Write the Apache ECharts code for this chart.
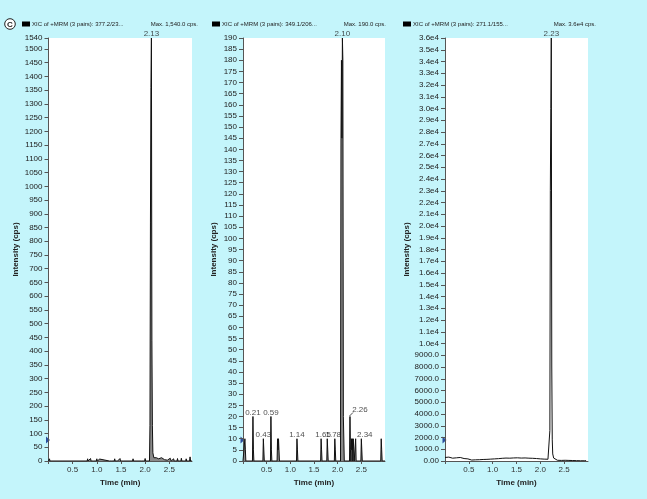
<!DOCTYPE html>
<html><head><meta charset="utf-8">
<script src="https://cdn.jsdelivr.net/npm/echarts@6/dist/echarts.min.js"></script>
<style>html,body{margin:0;padding:0;background:#c4f5fb;}#c{width:647px;height:499px;}</style>
</head><body><div id="c"></div>
<script>
// ---- data ----
const seriesNames = ['XIC of +MRM (3 pairs): 377.2/23...', 'XIC of +MRM (3 pairs): 349.1/206...', 'XIC of +MRM (3 pairs): 271.1/155...'];
const maxTexts = ['Max. 1,540.0 cps.', 'Max. 190.0 cps.', 'Max. 3.6e4 cps.'];
const yMax = [1540, 190, 36000];
const yInterval = [50, 5, 1000];
const xTicks = [0.5, 1.0, 1.5, 2.0, 2.5];

const trace1 = [[0.00,0],[0.02,8],[0.03,0],[0.05,6],[0.06,0],
 [0.30,0],[0.31,7],[0.32,0],[0.33,7],[0.34,0],
 [0.80,0],[0.81,8],[0.82,0],[0.86,0],[0.87,9],[0.88,0],[0.91,0],[0.92,7],[0.93,0],
 [0.99,0],[1.00,8],[1.01,0],[1.05,0],[1.06,7],[1.07,0],
 [1.26,0],[1.27,6],[1.28,0],[1.31,0],[1.32,7],[1.33,0],[1.36,0],[1.37,8],[1.38,0],[1.41,0],[1.42,6],[1.43,0],[1.47,0],[1.48,9],[1.49,0],
 [1.56,0],[1.57,7],[1.58,0],[1.74,0],[1.75,8],[1.76,0],
 [1.93,0],[1.94,7],[1.95,0],[1.99,0],[2.00,9],[2.01,0],
 [2.09,0],[2.10,130],[2.11,870],[2.12,1360],[2.13,1540],[2.14,440],[2.15,130],[2.16,30],[2.17,25],[2.18,12],[2.19,18],[2.20,8],[2.21,14],[2.22,6],[2.23,12],[2.25,5],[2.26,15],[2.28,8],[2.30,10],[2.32,4],[2.34,12],[2.36,6],[2.38,10],[2.40,5],[2.42,11],[2.44,7],[2.46,3],[2.48,9],[2.50,4],[2.52,10],[2.54,0],
 [2.58,0],[2.59,8],[2.60,0],[2.66,0],[2.67,9],[2.68,0],[2.74,0],[2.75,10],[2.76,0],[2.84,0],[2.85,8],[2.86,0],[2.92,0],[2.93,15],[2.94,0],[2.97,0]];

const trace2 = [[0.00,0],[0.03,0],[0.04,10],[0.05,5],[0.06,0],
 [0.20,0],[0.21,20],[0.22,5],[0.23,0],
 [0.42,0],[0.43,10],[0.44,5],[0.45,0],
 [0.58,0],[0.59,20],[0.60,5],[0.61,0],
 [0.72,0],[0.73,10],[0.74,5],[0.75,10],[0.76,5],[0.77,0],
 [1.13,0],[1.14,10],[1.15,5],[1.16,0],
 [1.64,0],[1.65,10],[1.66,5],[1.67,0],
 [1.77,0],[1.78,10],[1.79,5],[1.80,0],
 [1.93,0],[1.94,10],[1.95,5],[1.96,0],
 [2.06,0],[2.07,145],[2.08,180],[2.09,145],[2.10,190],[2.11,180],[2.12,20],[2.13,20],[2.14,0],
 [2.25,0],[2.26,20],[2.27,5],[2.28,0],[2.29,10],[2.30,5],[2.31,10],[2.32,0],[2.33,10],[2.34,5],[2.35,0],
 [2.37,0],[2.38,10],[2.39,0],
 [2.49,0],[2.50,10],[2.51,5],[2.52,0],
 [2.91,0],[2.92,10],[2.93,5],[2.94,0],[3.00,0]];

const trace3 = [[0.00,300],[0.04,260],[0.08,330],[0.12,280],[0.16,240],[0.20,310],[0.24,270],[0.28,230],[0.32,300],[0.36,250],[0.40,210],[0.44,270],[0.48,180],
 [0.52,40],[0.56,80],[0.60,60],[0.64,100],[0.68,70],[0.72,110],[0.76,90],[0.80,130],[0.84,80],[0.88,140],[0.92,110],[0.96,160],
 [1.00,120],[1.04,180],[1.08,140],[1.12,200],[1.16,150],[1.20,230],[1.24,170],[1.28,250],[1.32,190],[1.36,240],[1.40,180],[1.44,260],[1.48,200],
 [1.52,270],[1.56,210],[1.60,250],[1.64,190],[1.68,260],[1.72,200],[1.76,240],[1.80,170],[1.84,230],[1.88,160],[1.92,210],[1.96,140],
 [2.00,180],[2.04,120],[2.08,160],[2.12,110],[2.16,150],[2.18,200],[2.20,2600],[2.21,23000],[2.22,30000],[2.23,36000],[2.24,8000],[2.25,1800],[2.26,600],[2.28,250],
 [2.32,120],[2.36,60],[2.40,90],[2.44,50],[2.48,80],[2.52,60],[2.56,90],[2.60,50],[2.64,70],[2.68,40],[2.72,60],[2.76,30],[2.80,50],[2.84,20],[2.88,40],[2.92,20],[2.96,30]];

const peaks1 = [[2.13,1540]];
const peaks2 = [[0.21,20],[0.43,10],[0.59,20],[1.14,10],[1.65,10],[1.78,10],[2.10,190],[2.26,20],[2.34,10]];
const peaks3 = [[2.23,36000]];

// ---- layout / style ----
const FONT = 'Liberation Sans, Arial, sans-serif';
const grids = [
  {left:48.5, top:38, width:143.5, height:423},
  {left:243, top:38, width:142, height:423},
  {left:445, top:38, width:143, height:423}
];
const xMax = [2.97, 3.0, 3.0];
const nameGaps = [29, 25, 34];
const labelOffsets2 = {'1.65':[2,0], '1.78':[6,0], '2.26':[10,-3], '2.34':[11,0]};

function yFmt(i){
  if (i === 2) return function(v){ if(v===0) return '0.00'; if(v<10000) return v.toFixed(1); return (v/1e4).toFixed(1)+'e4'; };
  return function(v){ return String(v); };
}

const traces = [trace1, trace2, trace3];
const peaks = [peaks1, peaks2, peaks3];

const option = {
  backgroundColor: '#c4f5fb',
  animation: false,
  textStyle: {fontFamily: FONT},
  grid: grids.map(g => Object.assign({show:true, backgroundColor:'#fff', borderWidth:0}, g)),
  legend: [
    {data:[seriesNames[0]], left:22, top:21},
    {data:[seriesNames[1]], left:212, top:21},
    {data:[seriesNames[2]], left:403, top:21}
  ].map(l => Object.assign({icon:'rect', itemWidth:8, itemHeight:5, itemGap:4, selectedMode:false, padding:0,
        itemStyle:{color:'#000'}, textStyle:{fontSize:6, color:'#222', fontFamily:FONT, padding:[0,0,0,-3]}}, l)),
  title: [
    {text: maxTexts[0], right: 449, top: 21},
    {text: maxTexts[1], right: 261, top: 21},
    {text: maxTexts[2], right: 51, top: 21}
  ].map(t => Object.assign({padding:0, textStyle:{fontSize:6, fontWeight:'normal', color:'#222', fontFamily:FONT}}, t)),
  xAxis: [0,1,2].map(i => ({
    type:'value', gridIndex:i, min:0, max:xMax[i], interval:0.5,
    name:'Time (min)', nameLocation:'middle', nameGap:15,
    nameTextStyle:{fontSize:8, fontWeight:'bold', color:'#222', fontFamily:FONT},
    axisLine:{show:true, lineStyle:{color:'#555', width:1}},
    axisTick:{show:true, length:3, lineStyle:{color:'#555'}},
    axisLabel:{fontSize:8, color:'#333', margin:5, showMaxLabel:false,
      formatter: v => (xTicks.indexOf(Math.round(v*10)/10) >= 0 ? v.toFixed(1) : '')},
    splitLine:{show:false}
  })),
  yAxis: [0,1,2].map(i => ({
    type:'value', gridIndex:i, min:0, max:yMax[i], interval:yInterval[i],
    name:'Intensity (cps)', nameLocation:'middle', nameGap:nameGaps[i], nameRotate:90,
    nameTextStyle:{fontSize:8, fontWeight:'bold', color:'#222', fontFamily:FONT},
    axisLine:{show:true, lineStyle:{color:'#555', width:1}},
    axisTick:{show:true, length:4, lineStyle:{color:'#555'}},
    axisLabel:{fontSize:8, color:'#222', margin:6, formatter:yFmt(i)},
    splitLine:{show:false}
  })),
  series: [].concat(
    [0,1,2].map(i => ({
      name: seriesNames[i], type:'line', xAxisIndex:i, yAxisIndex:i,
      data: traces[i], showSymbol:false, symbol:'none', sampling:'none',
      lineStyle:{color:'#111', width:1}, itemStyle:{color:'#000'},
      areaStyle: i < 2 ? {color:'#8a8a8a', opacity:1} : undefined,
      z: 2
    })),
    [0,1,2].map(i => ({
      type:'scatter', xAxisIndex:i, yAxisIndex:i, symbolSize:0, silent:true, z:5,
      data: peaks[i].map(p => {
        const off = (i === 1 && labelOffsets2[p[0].toFixed(2)]) || [0,0];
        return {value:p, label:{offset:off}};
      }),
      label:{show:true, position:'top', distance:0, fontSize:8, color:'#222', fontFamily:FONT,
        formatter: p => p.value[0].toFixed(2)}
    }))
  ),
  graphic: [
    {type:'circle', shape:{cx:10, cy:24, r:5.3}, style:{fill:'#fff', stroke:'#222', lineWidth:1}},
    {type:'text', x:10, y:24.5, style:{text:'C', fontSize:8, fontWeight:'bold', fill:'#222', align:'center', verticalAlign:'middle', fontFamily:FONT}},
    {type:'polygon', shape:{points:[[46,436.5],[50,440],[46,443.5]]}, style:{fill:'#2b4f9e'}},
    {type:'polygon', shape:{points:[[240.5,436.5],[244.5,440],[240.5,443.5]]}, style:{fill:'#2b4f9e'}},
    {type:'polygon', shape:{points:[[442.5,436.5],[446.5,440],[442.5,443.5]]}, style:{fill:'#2b4f9e'}},
    {type:'polyline', shape:{points:[[349.5,416],[353,412.5]]}, style:{stroke:'#222', lineWidth:0.8}}
  ]
};
echarts.init(document.getElementById('c'), null, {renderer:'canvas'}).setOption(option);
</script>
</body></html>
